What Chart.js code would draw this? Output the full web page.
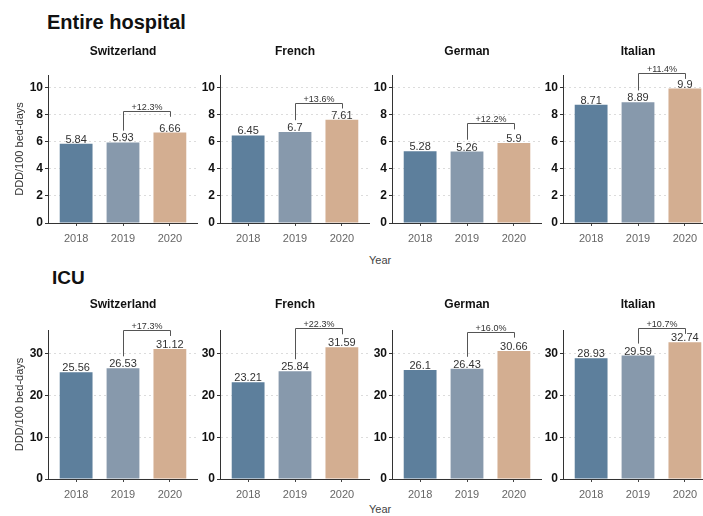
<!DOCTYPE html>
<html>
<head>
<meta charset="utf-8">
<title>DDD per 100 bed-days</title>
<script src="https://cdn.jsdelivr.net/npm/chart.js@4.4.0/dist/chart.umd.min.js"></script>
<style>
  html,
  body {
    margin: 0;
    padding: 0;
    background: #fff;
  }
  body {
    position: relative;
    width: 703px;
    height: 516px;
    overflow: hidden;
    font-family: "Liberation Sans", Arial, sans-serif;
  }
  .panel {
    position: absolute;
  }
  .section-title {
    position: absolute;
    font-weight: bold;
    color: #111;
    line-height: 1;
    white-space: nowrap;
  }
  .axis-note {
    position: absolute;
    font-size: 11px;
    color: #444;
    line-height: 1;
  }
</style>
</head>
<body>
<div class="section-title" style="left:47px; top:12px; font-size:20px">Entire hospital</div>
<div class="section-title" style="left:52px; top:268px; font-size:19px">ICU</div>
<div class="axis-note" style="left:369px; top:255px">Year</div>
<div class="axis-note" style="left:369px; top:504px">Year</div>

<script>
// Years on the x axis and the regions shown as facets
const years = ["2018", "2019", "2020"];
const regions = ["Switzerland", "French", "German", "Italian"];

// DDD/100 bed-days, whole hospital
const hospitalSwiss = [5.84, 5.93, 6.66];
const hospitalFrench = [6.45, 6.7, 7.61];
const hospitalGerman = [5.28, 5.26, 5.9];
const hospitalItalian = [8.71, 8.89, 9.9];

// DDD/100 bed-days, intensive care units
const icuSwiss = [25.56, 26.53, 31.12];
const icuFrench = [23.21, 25.84, 31.59];
const icuGerman = [26.1, 26.43, 30.66];
const icuItalian = [28.93, 29.59, 32.74];

// 2019 -> 2020 change shown over the bracket
const hospitalChange = ["+12.3%", "+13.6%", "+12.2%", "+11.4%"];
const icuChange = ["+17.3%", "+22.3%", "+16.0%", "+10.7%"];

// height of the bracket line, in DDD/100 bed-days
const hospitalBracket = [8.26, 8.87, 7.33, 11.05];
const icuBracket = [35.7, 36.1, 35.3, 36.2];

// y axis ticks for each row
const hospitalTicks = [0, 2, 4, 6, 8, 10];
const icuTicks = [0, 10, 20, 30];

const yearColors = ["#5d7f9c", "#8799ac", "#d3ae91"];
const axisLeft = [48, 220, 392, 563];

Chart.defaults.font.family = "'Liberation Sans', Arial, sans-serif";
Chart.defaults.animation = false;

// Value labels over the bars plus the 2019-2020 bracket
const barNotes = {
  id: "barNotes",
  afterDatasetsDraw(chart, args, opts) {
    const { ctx } = chart;
    const yScale = chart.scales.y;
    const bars = chart.getDatasetMeta(0).data;
    const points = chart.data.datasets[0].data;

    ctx.save();
    ctx.fillStyle = "#333";
    ctx.textAlign = "center";
    ctx.textBaseline = "alphabetic";
    ctx.font = "11px 'Liberation Sans', Arial, sans-serif";
    bars.forEach((bar, i) => {
      ctx.fillText(String(points[i].y), bar.x, bar.y - 1);
    });

    const xl = Math.round(bars[1].x) + 0.5;
    const xr = Math.round(bars[2].x) + 0.5;
    const top = Math.round(yScale.getPixelForValue(opts.level)) + 0.5;
    const leftFoot = yScale.getPixelForValue(points[1].y + opts.yMax * 0.08);
    const rightFoot = yScale.getPixelForValue(opts.level - opts.yMax * 0.04);

    ctx.strokeStyle = "#555";
    ctx.lineWidth = 1;
    ctx.beginPath();
    ctx.moveTo(xl, leftFoot);
    ctx.lineTo(xl, top);
    ctx.lineTo(xr, top);
    ctx.lineTo(xr, rightFoot);
    ctx.stroke();

    ctx.font = "9px 'Liberation Sans', Arial, sans-serif";
    ctx.fillText(opts.label, (xl + xr) / 2, top - 1.5);
    ctx.restore();
  },
};

function buildPanel(row, col) {
  const first = col === 0;
  const yAxisWidth = first ? 48 : 28;
  const values = row.series[col];

  const canvas = document.createElement("canvas");
  canvas.className = "panel";
  canvas.width = yAxisWidth + 150;
  canvas.height = 216;
  canvas.style.left = axisLeft[col] - yAxisWidth + "px";
  canvas.style.top = row.top + "px";
  document.body.appendChild(canvas);

  new Chart(canvas, {
    type: "bar",
    data: {
      datasets: [
        {
          data: values.map((v, i) => ({ x: i + 1, y: v })),
          backgroundColor: yearColors,
          borderWidth: 0,
          barPercentage: 0.7,
          categoryPercentage: 1,
        },
      ],
    },
    options: {
      responsive: false,
      maintainAspectRatio: false,
      layout: { padding: 0 },
      plugins: {
        legend: { display: false },
        tooltip: { enabled: false },
        title: {
          display: true,
          text: regions[col],
          fullSize: false,
          color: "#111",
          font: { size: 12, weight: "bold" },
          padding: { top: row.titleTop, bottom: row.titleBottom },
        },
        barNotes: {
          label: row.change[col],
          level: row.bracket[col],
          yMax: row.yMax,
        },
      },
      scales: {
        x: {
          type: "linear",
          offset: false,
          min: 0.4,
          max: 3.6,
          afterBuildTicks: (axis) => {
            axis.ticks = years.map((_, i) => ({ value: i + 1 }));
          },
          afterFit: (axis) => {
            axis.height = 28;
          },
          ticks: {
            callback: (v) => years[v - 1],
            color: "#666",
            font: { size: 11 },
            padding: 6,
            maxRotation: 0,
            autoSkip: false,
          },
          grid: {
            offset: false,
            drawOnChartArea: false,
            tickLength: 3,
            tickColor: "#444",
          },
          border: { color: "#333", width: 1 },
        },
        y: {
          min: 0,
          max: row.yMax,
          afterBuildTicks: (axis) => {
            axis.ticks = row.ticks.map((v) => ({ value: v }));
          },
          afterFit: (axis) => {
            axis.width = yAxisWidth;
          },
          ticks: {
            color: "#111",
            font: { size: 12, weight: "bold" },
            padding: 2,
          },
          grid: {
            color: "#dcdcdc",
            tickLength: 3,
            tickColor: "#333",
          },
          border: { color: "#333", width: 1, dash: [2, 3] },
          title: {
            display: first,
            text: "DDD/100 bed-days",
            color: "#333",
            font: { size: 11 },
            padding: { top: 13.4, bottom: 0 },
          },
        },
      },
    },
    plugins: [barNotes],
  });
}

document.addEventListener("DOMContentLoaded", function () {
  const rows = [
    {
      top: 35,
      titleTop: 9,
      titleBottom: 16.6,
      yMax: 10.9,
      ticks: hospitalTicks,
      series: [hospitalSwiss, hospitalFrench, hospitalGerman, hospitalItalian],
      change: hospitalChange,
      bracket: hospitalBracket,
    },
    {
      top: 291,
      titleTop: 6.8,
      titleBottom: 17.8,
      yMax: 35.7,
      ticks: icuTicks,
      series: [icuSwiss, icuFrench, icuGerman, icuItalian],
      change: icuChange,
      bracket: icuBracket,
    },
  ];

  rows.forEach((row) => {
    regions.forEach((_, col) => buildPanel(row, col));
  });
});
</script>
</body>
</html>
